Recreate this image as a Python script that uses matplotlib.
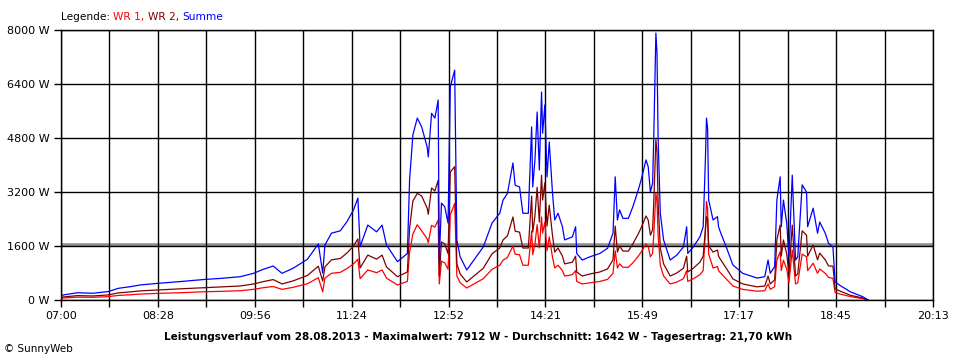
import matplotlib
matplotlib.use("Agg")
import matplotlib.pyplot as plt
import numpy as np

# minutes after 07:00
minutes = [0, 2, 15, 29, 43, 52, 63, 72, 87, 108, 131, 145, 163, 175, 184, 193, 201, 211, 224, 234,
           238, 240, 246, 254, 260, 266, 270, 272, 279, 287, 292, 296, 306, 315, 317, 320, 324, 328, 333, 334,
           337, 340, 343, 344, 346, 349, 352, 354, 358, 360, 363, 369, 384, 392, 399, 402, 406, 411, 413, 417,
           420, 425, 428, 429, 431, 433, 435, 437, 438, 440, 442, 444, 447, 449, 452, 456, 458, 465, 468, 469,
           474, 481, 490, 497, 502, 504, 506, 508, 511, 516, 520, 525, 528, 532, 534, 536, 538, 539, 541, 542,
           543, 545, 548, 554, 560, 566, 569, 570, 575, 581, 584, 586, 587, 588, 589, 593, 597, 598, 599, 606,
           611, 620, 633, 640, 643, 645, 649, 651, 654, 655, 657, 660, 662, 665, 668, 670, 674, 678, 679, 684,
           688, 690, 695, 698, 702, 704, 708, 718, 729, 734]

summe = [100, 150, 215, 200, 250, 345, 395, 445, 490, 545, 610, 640, 690, 790, 910, 1007, 790, 940, 1205, 1660,
         800, 1630, 1980, 2050, 2320, 2670, 3020, 1580, 2220, 2020, 2220, 1630, 1135, 1380, 3555, 4890, 5390, 5130, 4530, 4240,
         5530, 5390, 5925, 1185, 2870, 2760, 2280, 6310, 6810, 1780, 1280, 890, 1570, 2280, 2570, 2960, 3160, 4060, 3400, 3350,
         2570, 2570, 5130, 3350, 4150, 5570, 3850, 6160, 4940, 5780, 3650, 4680, 3160, 2370, 2570, 2170, 1780, 1870, 2170, 1380,
         1185, 1280, 1380, 1530, 1980, 3650, 2370, 2670, 2420, 2420, 2760, 3260, 3610, 4150, 3950, 3200, 3460, 4740, 7910, 7310,
         4830, 2570, 1780, 1185, 1330, 1570, 2170, 1380, 1570, 1870, 2170, 4150, 5390, 5100, 2960, 2370, 2470, 2170, 2070, 1480,
         1040, 790, 650, 690, 1185, 790, 990, 2960, 3650, 2170, 2960, 2270, 1280, 3700, 1185, 1280, 3410, 3200, 2170, 2720,
         1980, 2310, 1980, 1680, 1570, 540, 440, 240, 100, 0]

wr2 = [60, 90, 130, 120, 150, 210, 240, 270, 295, 330, 365, 385, 415, 475, 545, 605, 475, 565, 725, 1000,
       560, 980, 1190, 1230, 1390, 1600, 1810, 950, 1330, 1210, 1330, 980, 690, 830, 2130, 2930, 3160, 3080, 2720, 2540,
       3320, 3230, 3550, 710, 1720, 1660, 1370, 3790, 3950, 1070, 770, 535, 940, 1370, 1540, 1780, 1900, 2460, 2040, 2010,
       1540, 1540, 3080, 2010, 2490, 3340, 2310, 3700, 2960, 3470, 2190, 2810, 1900, 1420, 1540, 1300, 1070, 1120, 1300, 830,
       710, 770, 830, 920, 1190, 2190, 1420, 1600, 1450, 1450, 1660, 1960, 2170, 2490, 2370, 1920, 2080, 2840, 4750, 4390,
       2900, 1540, 1070, 710, 800, 940, 1300, 830, 940, 1120, 1300, 2100, 2470, 2400, 1600, 1420, 1480, 1300, 1240, 890,
       625, 475, 390, 415, 710, 475, 595, 1780, 2220, 1300, 1780, 1360, 770, 2220, 710, 770, 2050, 1920, 1300, 1630,
       1190, 1390, 1190, 1010, 1000, 330, 270, 140, 60, 0]

wr1 = [40, 60, 85, 80, 100, 135, 155, 175, 195, 215, 245, 255, 275, 315, 365, 400, 315, 375, 480, 660,
       240, 650, 790, 820, 930, 1070, 1210, 630, 890, 810, 890, 650, 445, 550, 1420, 1960, 2230, 2050, 1810, 1700,
       2210, 2160, 2370, 475, 1150, 1100, 910, 2520, 2860, 710, 510, 355, 630, 910, 1030, 1180, 1260, 1600, 1360, 1340,
       1030, 1030, 2050, 1340, 1660, 2230, 1540, 2460, 1980, 2310, 1460, 1870, 1260, 950, 1030, 870, 710, 750, 870, 550,
       475, 510, 550, 610, 790, 1460, 950, 1070, 970, 970, 1100, 1300, 1440, 1660, 1580, 1280, 1380, 1900, 3160, 2920,
       1930, 1030, 710, 475, 530, 630, 870, 550, 630, 750, 870, 2050, 2920, 2700, 1360, 950, 990, 870, 830, 590,
       415, 315, 260, 275, 475, 315, 395, 1180, 1430, 870, 1180, 910, 510, 1480, 475, 510, 1360, 1280, 870, 1090,
       790, 920, 790, 670, 640, 220, 180, 100, 40, 0]

x_labels = ["07:00", "08:28", "09:56", "11:24", "12:52", "14:21", "15:49", "17:17", "18:45", "20:13"]
y_ticks = [0, 1600, 3200, 4800, 6400, 8000]
durchschnitt = 1642
span = 793  # 07:00 .. 20:13

fig = plt.figure(figsize=(9.6, 3.6), dpi=100)
ax = fig.add_axes([61 / 960, 60 / 360, 872 / 960, 270 / 360])

ax.plot(minutes, wr1, color="#ff0000", lw=0.9)
ax.plot(minutes, wr2, color="#800000", lw=0.9)
ax.plot(minutes, summe, color="#0000ff", lw=0.9)

major = np.linspace(0, span, len(x_labels))
minor = np.linspace(0, span, 2 * len(x_labels) - 1)
ax.set_xlim(0, span)
ax.set_ylim(0, 8000)
ax.set_xticks(major)
ax.set_xticklabels(x_labels)
ax.set_xticks(minor, minor=True)
ax.set_yticks(y_ticks)
ax.set_yticklabels([f"{v} W" for v in y_ticks])

ax.grid(True, which="both", axis="x", color="black", lw=1)
ax.grid(True, which="major", axis="y", color="black", lw=1)
ax.set_axisbelow(True)
# average line, sits just under the 1600 W grid line
ax.axhline(durchschnitt, color="#909090", lw=2.6, zorder=0.4)

ax.tick_params(which="both", direction="out", length=5, width=1, color="black", labelsize=8, pad=3)
for s in ax.spines.values():
    s.set_color("black")
    s.set_linewidth(1)

# legend line at the top
fig.canvas.draw()
r = fig.canvas.get_renderer()
xpos = 61
for txt, col in [("Legende: ", "black"), ("WR 1, ", "#ff0000"), ("WR 2, ", "#800000"), ("Summe", "#0000ff")]:
    t = fig.text(xpos / 960, 1 - 17 / 360, txt, color=col, fontsize=7.6, va="center", ha="left")
    xpos += t.get_window_extent(r).width

fig.text(478 / 960, 1 - 337 / 360,
         "Leistungsverlauf vom 28.08.2013 - Maximalwert: 7912 W - Durchschnitt: 1642 W - Tagesertrag: 21,70 kWh",
         fontsize=7.5, fontweight="bold", ha="center", va="center")
fig.text(4 / 960, 1 - 349 / 360, "© SunnyWeb", fontsize=7.5, ha="left", va="center")

fig.savefig("out.png", dpi=100)
